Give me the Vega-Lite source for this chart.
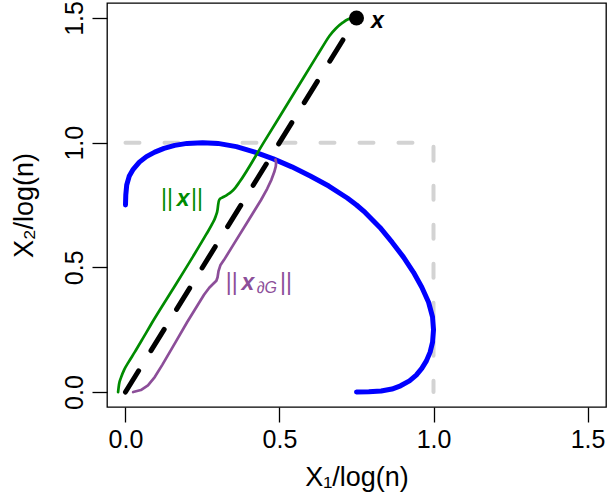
{
  "$schema": "https://vega.github.io/schema/vega-lite/v6.json",
  "width": 499,
  "height": 404,
  "autosize": {"type": "none"},
  "padding": {"left": 107, "top": 3, "right": 1, "bottom": 94},
  "background": "white",
  "config": {
    "view": {"stroke": "black", "strokeWidth": 1.3},
    "font": "Liberation Sans",
    "axis": {
      "domain": false,
      "grid": false,
      "tickSize": 15,
      "tickWidth": 1.3,
      "tickColor": "black",
      "labelFont": "Liberation Sans",
      "labelFontSize": 25,
      "labelColor": "black",
      "labelFlush": false,
      "labelOverlap": false,
      "titleFont": "Liberation Sans",
      "titleFontSize": 27,
      "titleFontWeight": "normal",
      "titleColor": "black"
    }
  },
  "datasets": {
    "gray": [
      {"x": 0, "y": 1}, {"x": 1, "y": 1}, {"x": 1, "y": 0}
    ],
    "diag": [
      {"x": 0, "y": 0}, {"x": 0.75, "y": 1.5}
    ],
    "blue": [
      {"x": 0.000, "y": 0.750}, {"x": 0.001, "y": 0.790}, {"x": 0.004, "y": 0.830}, {"x": 0.012, "y": 0.865},
      {"x": 0.025, "y": 0.893}, {"x": 0.045, "y": 0.922}, {"x": 0.068, "y": 0.944}, {"x": 0.095, "y": 0.962},
      {"x": 0.125, "y": 0.977}, {"x": 0.160, "y": 0.989}, {"x": 0.200, "y": 0.997}, {"x": 0.250, "y": 1.000},
      {"x": 0.300, "y": 0.997}, {"x": 0.360, "y": 0.984}, {"x": 0.420, "y": 0.962}, {"x": 0.480, "y": 0.935},
      {"x": 0.540, "y": 0.903}, {"x": 0.600, "y": 0.866}, {"x": 0.660, "y": 0.826}, {"x": 0.720, "y": 0.778},
      {"x": 0.750, "y": 0.750}, {"x": 0.778, "y": 0.720}, {"x": 0.826, "y": 0.660}, {"x": 0.866, "y": 0.600},
      {"x": 0.903, "y": 0.540}, {"x": 0.935, "y": 0.480}, {"x": 0.962, "y": 0.420}, {"x": 0.984, "y": 0.360},
      {"x": 0.997, "y": 0.300}, {"x": 1.000, "y": 0.250}, {"x": 0.997, "y": 0.200}, {"x": 0.989, "y": 0.160},
      {"x": 0.977, "y": 0.125}, {"x": 0.962, "y": 0.095}, {"x": 0.944, "y": 0.068}, {"x": 0.922, "y": 0.045},
      {"x": 0.893, "y": 0.025}, {"x": 0.865, "y": 0.012}, {"x": 0.830, "y": 0.004}, {"x": 0.790, "y": 0.001},
      {"x": 0.750, "y": 0.000}
    ],
    "green": [
      {"x": -0.024, "y": 0.000}, {"x": -0.021, "y": 0.030}, {"x": -0.014, "y": 0.060}, {"x": -0.004, "y": 0.090},
      {"x": 0.010, "y": 0.120}, {"x": 0.030, "y": 0.160}, {"x": 0.055, "y": 0.212}, {"x": 0.080, "y": 0.265},
      {"x": 0.150, "y": 0.405}, {"x": 0.220, "y": 0.545}, {"x": 0.262, "y": 0.632}, {"x": 0.281, "y": 0.673},
      {"x": 0.293, "y": 0.705}, {"x": 0.299, "y": 0.732}, {"x": 0.301, "y": 0.752}, {"x": 0.303, "y": 0.766},
      {"x": 0.307, "y": 0.775}, {"x": 0.316, "y": 0.781}, {"x": 0.329, "y": 0.790}, {"x": 0.344, "y": 0.803},
      {"x": 0.357, "y": 0.820}, {"x": 0.370, "y": 0.842}, {"x": 0.450, "y": 1.003}, {"x": 0.550, "y": 1.204},
      {"x": 0.620, "y": 1.345}, {"x": 0.645, "y": 1.395}, {"x": 0.662, "y": 1.428}, {"x": 0.683, "y": 1.458},
      {"x": 0.705, "y": 1.481}, {"x": 0.721, "y": 1.494}, {"x": 0.735, "y": 1.499}, {"x": 0.750, "y": 1.500}
    ],
    "purple": [
      {"x": 0.025, "y": 0.000}, {"x": 0.050, "y": 0.008}, {"x": 0.073, "y": 0.027}, {"x": 0.095, "y": 0.060},
      {"x": 0.120, "y": 0.110}, {"x": 0.165, "y": 0.205}, {"x": 0.200, "y": 0.280}, {"x": 0.230, "y": 0.340},
      {"x": 0.255, "y": 0.390}, {"x": 0.272, "y": 0.418}, {"x": 0.285, "y": 0.434}, {"x": 0.295, "y": 0.446},
      {"x": 0.299, "y": 0.460}, {"x": 0.302, "y": 0.485}, {"x": 0.308, "y": 0.508}, {"x": 0.320, "y": 0.530},
      {"x": 0.350, "y": 0.590}, {"x": 0.400, "y": 0.690}, {"x": 0.440, "y": 0.770}, {"x": 0.460, "y": 0.815},
      {"x": 0.474, "y": 0.852}, {"x": 0.483, "y": 0.882}, {"x": 0.488, "y": 0.905}, {"x": 0.489, "y": 0.920},
      {"x": 0.487, "y": 0.932}
    ],
    "point": [
      {"x": 0.75, "y": 1.5}
    ],
    "bars": [
      {"x": 0.135, "y": 0.745, "label": "||", "series": "norm"},
      {"x": 0.232, "y": 0.745, "label": "||", "series": "norm"},
      {"x": 0.345, "y": 0.409, "label": "||", "series": "boundary"},
      {"x": 0.521, "y": 0.409, "label": "||", "series": "boundary"}
    ],
    "bold": [
      {"x": 0.818, "y": 1.461, "label": "x", "series": "point"},
      {"x": 0.187, "y": 0.745, "label": "x", "series": "norm"},
      {"x": 0.397, "y": 0.409, "label": "x", "series": "boundary"}
    ],
    "sub": [
      {"x": 0.459, "y": 0.397, "label": "∂G", "series": "boundary"}
    ]
  },
  "encoding": {
    "x": {
      "field": "x", "type": "quantitative",
      "scale": {"domain": [-0.06, 1.56], "nice": false, "zero": false},
      "axis": {"values": [0, 0.5, 1, 1.5], "format": ".1f", "labelPadding": 5, "title": "X₁/log(n)", "titlePadding": 12}
    },
    "y": {
      "field": "y", "type": "quantitative",
      "scale": {"domain": [-0.06, 1.56], "nice": false, "zero": false},
      "axis": {"values": [0, 0.5, 1, 1.5], "format": ".1f", "labelAngle": -90, "labelAlign": "center", "labelBaseline": "alphabetic", "labelPadding": 10, "title": "X₂/log(n)", "titlePadding": 24}
    }
  },
  "layer": [
    {
      "data": {"name": "gray"},
      "mark": {"type": "line", "color": "#D3D3D3", "strokeWidth": 4, "strokeDash": [14, 25], "strokeCap": "round", "strokeJoin": "round"},
      "encoding": {"order": {"value": null}}
    },
    {
      "data": {"name": "blue"},
      "mark": {"type": "line", "color": "#0000FF", "strokeWidth": 5, "strokeCap": "round", "strokeJoin": "round"},
      "encoding": {"order": {"value": null}}
    },
    {
      "data": {"name": "diag"},
      "mark": {"type": "line", "color": "black", "strokeWidth": 5, "strokeDash": [25, 23.6], "strokeCap": "round"},
      "encoding": {"order": {"value": null}}
    },
    {
      "data": {"name": "green"},
      "mark": {"type": "line", "color": "#008B00", "strokeWidth": 2.7, "strokeCap": "round", "strokeJoin": "round", "interpolate": "monotone"},
      "encoding": {"order": {"value": null}}
    },
    {
      "data": {"name": "purple"},
      "mark": {"type": "line", "color": "#8C4E99", "strokeWidth": 2.7, "strokeCap": "round", "strokeJoin": "round"},
      "encoding": {"order": {"value": null}}
    },
    {
      "data": {"name": "point"},
      "mark": {"type": "circle", "color": "black", "opacity": 1, "size": 225}
    },
    {
      "data": {"name": "bars"},
      "mark": {"type": "text", "font": "Liberation Sans", "fontSize": 23, "align": "center", "baseline": "alphabetic"},
      "encoding": {
        "text": {"field": "label"},
        "color": {"field": "series", "type": "nominal", "scale": {"domain": ["point", "norm", "boundary"], "range": ["black", "#008B00", "#8C4E99"]}, "legend": null}
      }
    },
    {
      "data": {"name": "bold"},
      "mark": {"type": "text", "font": "Liberation Sans", "fontSize": 23, "fontWeight": "bold", "fontStyle": "italic", "align": "center", "baseline": "alphabetic"},
      "encoding": {
        "text": {"field": "label"},
        "color": {"field": "series", "type": "nominal", "scale": {"domain": ["point", "norm", "boundary"], "range": ["black", "#008B00", "#8C4E99"]}, "legend": null}
      }
    },
    {
      "data": {"name": "sub"},
      "mark": {"type": "text", "font": "Liberation Sans", "fontSize": 16, "fontStyle": "italic", "align": "center", "baseline": "alphabetic"},
      "encoding": {
        "text": {"field": "label"},
        "color": {"field": "series", "type": "nominal", "scale": {"domain": ["point", "norm", "boundary"], "range": ["black", "#008B00", "#8C4E99"]}, "legend": null}
      }
    }
  ]
}
